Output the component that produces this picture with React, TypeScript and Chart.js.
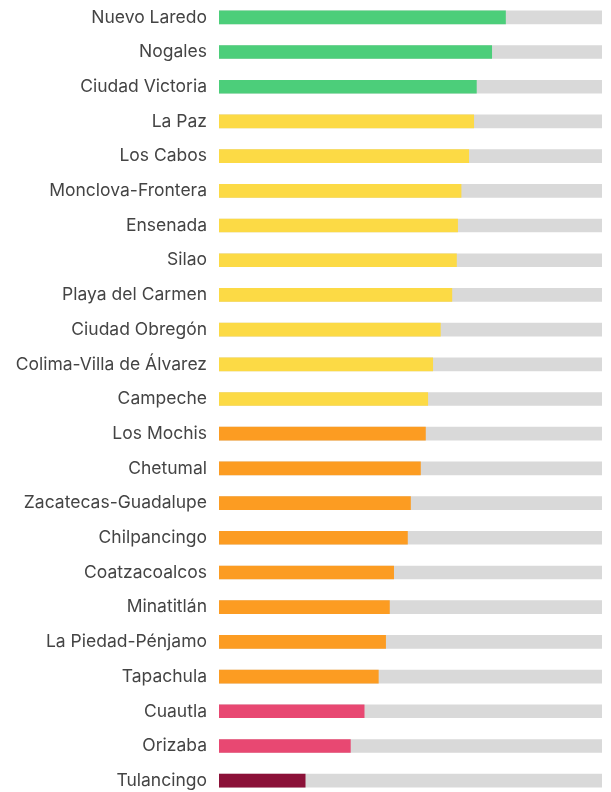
import React, { useEffect, useRef } from "react";
import { Chart, registerables } from "chart.js";

Chart.register(...registerables);

const categories: string[] = [
  "Nuevo Laredo",
  "Nogales",
  "Ciudad Victoria",
  "La Paz",
  "Los Cabos",
  "Monclova-Frontera",
  "Ensenada",
  "Silao",
  "Playa del Carmen",
  "Ciudad Obregón",
  "Colima-Villa de Álvarez",
  "Campeche",
  "Los Mochis",
  "Chetumal",
  "Zacatecas-Guadalupe",
  "Chilpancingo",
  "Coatzacoalcos",
  "Minatitlán",
  "La Piedad-Pénjamo",
  "Tapachula",
  "Cuautla",
  "Orizaba",
  "Tulancingo",
];

const values: number[] = [
  74.8, 71.2, 67.2, 66.5, 65.2, 63.2, 62.3, 62.0, 60.8, 57.8, 55.8, 54.5, 53.9,
  52.6, 50.0, 49.2, 45.6, 44.5, 43.5, 41.6, 37.9, 34.3, 22.5,
];

const maxValue = 100;
const backgroundValues: number[] = categories.map(() => maxValue);

const barColors: string[] = [
  "#4CCE7A", "#4CCE7A", "#4CCE7A",
  "#FCDA45", "#FCDA45", "#FCDA45", "#FCDA45", "#FCDA45", "#FCDA45", "#FCDA45", "#FCDA45", "#FCDA45",
  "#FC9C22", "#FC9C22", "#FC9C22", "#FC9C22", "#FC9C22", "#FC9C22", "#FC9C22", "#FC9C22",
  "#E84872", "#E84872",
  "#8B1138",
];

const trackColor = "#D9D9D9";

export default function App() {
  const canvasRef = useRef<HTMLCanvasElement | null>(null);

  useEffect(() => {
    if (!canvasRef.current) return;
    const chart = new Chart(canvasRef.current, {
      type: "bar",
      data: {
        labels: categories,
        datasets: [
          {
            data: values,
            backgroundColor: barColors,
            barThickness: 13,
            grouped: false,
          },
          {
            data: backgroundValues,
            backgroundColor: trackColor,
            barThickness: 13,
            grouped: false,
          },
        ],
      },
      options: {
        indexAxis: "y",
        animation: false,
        responsive: false,
        maintainAspectRatio: false,
        layout: { padding: { top: 0, bottom: 0, left: 0, right: 9 } },
        plugins: {
          legend: { display: false },
          tooltip: { enabled: false },
        },
        scales: {
          x: {
            display: false,
            min: 0,
            max: maxValue,
          },
          y: {
            grid: { display: false, drawTicks: false },
            border: { display: false },
            ticks: {
              padding: 12,
              color: "#444444",
              font: { family: "Inter", size: 17.5 },
            },
            afterFit: (scale: any) => {
              scale.width = 219;
              scale.paddingTop = 0;
              scale.paddingBottom = 0;
            },
          },
        },
      },
    });
    return () => chart.destroy();
  }, []);

  return (
    <div style={{ position: "absolute", left: 0, top: 0, width: 611, height: 798 }}>
      <canvas ref={canvasRef} width={611} height={798} style={{ display: "block" }} />
    </div>
  );
}
